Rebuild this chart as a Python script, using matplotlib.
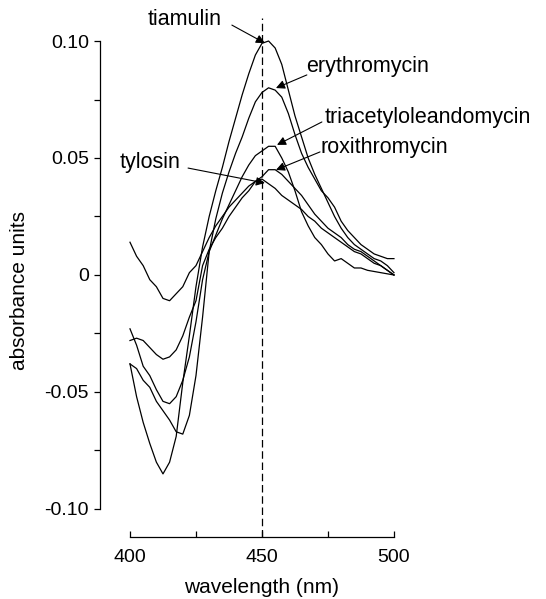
import matplotlib
matplotlib.use("Agg")
import matplotlib.pyplot as plt
import numpy as np
from matplotlib.ticker import FixedLocator

# wavelength grid (nm), 2.5 nm steps
wl = np.arange(400, 500.1, 2.5)

tiamulin = [-0.038, -0.052, -0.063, -0.072, -0.080, -0.085, -0.080, -0.069, -0.046, -0.026,
            -0.005, 0.012, 0.025, 0.036, 0.046, 0.057, 0.067, 0.077, 0.086, 0.094,
            0.099, 0.100, 0.097, 0.090, 0.079, 0.068, 0.059, 0.050, 0.043, 0.037,
            0.031, 0.025, 0.020, 0.016, 0.013, 0.011, 0.009, 0.007, 0.006, 0.004, 0.001]
erythromycin = [-0.038, -0.040, -0.045, -0.048, -0.054, -0.058, -0.062, -0.067, -0.068, -0.060,
                -0.043, -0.018, 0.010, 0.024, 0.035, 0.044, 0.052, 0.059, 0.067, 0.074,
                0.078, 0.080, 0.079, 0.076, 0.069, 0.060, 0.052, 0.046, 0.041, 0.036,
                0.033, 0.029, 0.023, 0.019, 0.016, 0.013, 0.011, 0.009, 0.008, 0.007, 0.007]
triacetyl = [-0.023, -0.030, -0.039, -0.043, -0.049, -0.054, -0.055, -0.052, -0.045, -0.035,
             -0.020, -0.002, 0.010, 0.017, 0.024, 0.030, 0.036, 0.042, 0.047, 0.051,
             0.053, 0.055, 0.055, 0.050, 0.044, 0.036, 0.027, 0.021, 0.016, 0.013,
             0.009, 0.006, 0.007, 0.005, 0.003, 0.003, 0.002, 0.0015, 0.001, 0.0005, 0.0]
roxithromycin = [-0.028, -0.027, -0.028, -0.031, -0.034, -0.036, -0.035, -0.032, -0.026, -0.018,
                 -0.011, 0.004, 0.011, 0.016, 0.020, 0.025, 0.029, 0.033, 0.036, 0.040,
                 0.042, 0.045, 0.045, 0.043, 0.040, 0.037, 0.034, 0.030, 0.026, 0.023,
                 0.020, 0.018, 0.016, 0.013, 0.011, 0.010, 0.008, 0.006, 0.004, 0.002, 0.0]
tylosin = [0.014, 0.008, 0.004, -0.002, -0.005, -0.010, -0.011, -0.008, -0.005, 0.001,
           0.004, 0.010, 0.016, 0.021, 0.025, 0.029, 0.032, 0.035, 0.038, 0.040,
           0.041, 0.039, 0.037, 0.034, 0.032, 0.030, 0.028, 0.025, 0.023, 0.020,
           0.018, 0.016, 0.014, 0.012, 0.010, 0.009, 0.007, 0.005, 0.004, 0.002, 0.0]

# label text, its left/centre position, arrow tail and arrow tip (data units)
labels = ["tiamulin", "erythromycin", "triacetyloleandomycin", "roxithromycin", "tylosin"]
text_pos = [(406.8, 0.1090), (466.7, 0.0889), (473.9, 0.0671), (472.0, 0.0543), (396.2, 0.0479)]
tails = [(438.6, 0.1068), (467.0, 0.0855), (472.7, 0.0654), (472.0, 0.0526), (422.0, 0.0457)]
tips = [(451.1, 0.0991), (455.3, 0.0799), (455.7, 0.0556), (455.3, 0.0449), (451.1, 0.0393)]

plt.rcParams['font.family'] = ['Liberation Sans', 'DejaVu Sans']

fig = plt.figure(figsize=(5.46, 5.99), dpi=100)
ax = fig.add_axes([100 / 546, 62 / 599, 446 / 546, 519 / 599])

for s in [tiamulin, erythromycin, triacetyl, roxithromycin, tylosin]:
    ax.plot(wl, s, color='black', lw=0.9)

ax.axvline(450, color='black', lw=0.9, dashes=(6, 3))

ax.set_xlim(388.64, 557.6)
ax.set_ylim(-0.11197, 0.10983)

for sp in ['top', 'right']:
    ax.spines[sp].set_visible(False)
ax.spines['left'].set_bounds(-0.1, 0.1)
ax.spines['bottom'].set_bounds(400, 500)
ax.spines['left'].set_linewidth(0.9)
ax.spines['bottom'].set_linewidth(0.9)

ax.set_yticks([-0.1, -0.05, 0, 0.05, 0.1])
ax.set_yticklabels(["-0.10", "-0.05", "0", "0.05", "0.10"])
ax.yaxis.set_minor_locator(FixedLocator([-0.075, -0.025, 0.025, 0.075]))
ax.set_xticks([400, 450, 500])
ax.xaxis.set_minor_locator(FixedLocator([425, 475]))

ax.tick_params(axis='y', which='both', direction='out', length=4, width=0.9, labelsize=14, pad=4)
ax.tick_params(axis='x', which='both', direction='in', length=4, width=0.9, labelsize=14, pad=9)

ax.text(-0.18, 0.475, "absorbance units", transform=ax.transAxes, rotation=90,
        ha='center', va='center', fontsize=15)
ax.text(450, -0.079, "wavelength (nm)", transform=ax.get_xaxis_transform(),
        ha='center', va='top', fontsize=15)

for name, pos, tail, tip in zip(labels, text_pos, tails, tips):
    ax.text(pos[0], pos[1], name, fontsize=15.5, ha='left', va='center', clip_on=False)
    ax.annotate("", xy=tip, xytext=tail, annotation_clip=False,
                arrowprops=dict(arrowstyle='-|>', color='black', lw=0.8,
                                mutation_scale=13, shrinkA=0, shrinkB=0))

fig.savefig("out.png", dpi=100)
